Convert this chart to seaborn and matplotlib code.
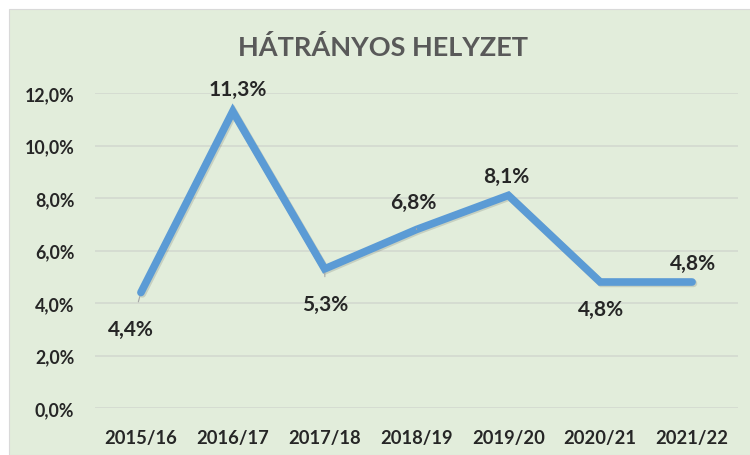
"""Hátrányos helyzet – line chart by school year."""
import matplotlib

matplotlib.use("Agg")
import matplotlib.pyplot as plt  # noqa: E402
import matplotlib.patheffects as pe  # noqa: E402
import pandas as pd  # noqa: E402
import seaborn as sns  # noqa: E402
from matplotlib.patches import Rectangle  # noqa: E402
from matplotlib.ticker import FuncFormatter  # noqa: E402

years = ["2015/16", "2016/17", "2017/18", "2018/19", "2019/20", "2020/21", "2021/22"]
values = [4.4, 11.3, 5.3, 6.8, 8.1, 4.8, 4.8]
title = "HÁTRÁNYOS HELYZET"

# label offsets (pixels) relative to each point, and whether to draw a leader line
label_offsets = [(-10, -36), (5, 22), (1, -35), (-3, 28), (-2, 19), (1, -27), (1, 19)]
leaders = [True, False, True, True, False, False, False]

BG = "#e2eddb"
LINE = "#5b9bd5"
TXT = "#262626"

sns.set_style("white")
plt.rcParams["font.family"] = ["Lato", "DejaVu Sans"]

df = pd.DataFrame({"year": years, "value": values})

fig = plt.figure(figsize=(7.5, 4.56), dpi=100)
fig.patch.set_facecolor("white")
fig.patches.append(Rectangle((9 / 750, 0), 1, (456 - 10) / 456,
                             transform=fig.transFigure, facecolor=BG,
                             edgecolor="#d9d9d9", linewidth=0.8, zorder=-5))
ax = fig.add_axes([95 / 750, (456 - 409) / 456, 643 / 750, 315 / 456])
ax.set_facecolor("none")
ax.set_zorder(2)

sns.lineplot(data=df, x="year", y="value", ax=ax, color=LINE, linewidth=5.5,
             sort=False, solid_joinstyle="miter", solid_capstyle="round",
             path_effects=[pe.SimpleLineShadow(offset=(1, -1), alpha=0.12),
                           pe.Normal()], zorder=3)

ax.set_xlim(-0.5, len(years) - 0.5)
ax.set_ylim(0, 12)
ax.set_yticks([0, 2, 4, 6, 8, 10, 12])
ax.yaxis.set_major_formatter(FuncFormatter(lambda v, _: f"{v:.1f}%".replace(".", ",")))
ax.grid(axis="y", color="#d3d9cf", linewidth=1.2)
ax.grid(axis="x", visible=False)
for s in ax.spines.values():
    s.set_visible(False)
ax.tick_params(axis="both", length=0, labelcolor=TXT)
ax.tick_params(axis="y", pad=15, labelsize=12.8)
ax.tick_params(axis="x", pad=15, labelsize=13.2)
for t in ax.get_xticklabels() + ax.get_yticklabels():
    t.set_fontweight("bold")
ax.set_xlabel("")
ax.set_ylabel("")

for i, (v, off, lead) in enumerate(zip(values, label_offsets, leaders)):
    arrow = None
    if lead:
        arrow = dict(arrowstyle="-", color="#a6a6a6", lw=0.8, shrinkA=10, shrinkB=3)
    ax.annotate(f"{v:.1f}%".replace(".", ","), (i, v), xytext=off,
                textcoords="offset pixels", ha="center", va="center",
                fontsize=15, fontweight="bold", color=TXT, arrowprops=arrow,
                zorder=4)

fig.text(383 / 750, 1 - 47 / 456, title, ha="center", va="center",
         fontsize=19.5, fontweight="bold", color="#595959")

fig.savefig("out.png", dpi=100)
